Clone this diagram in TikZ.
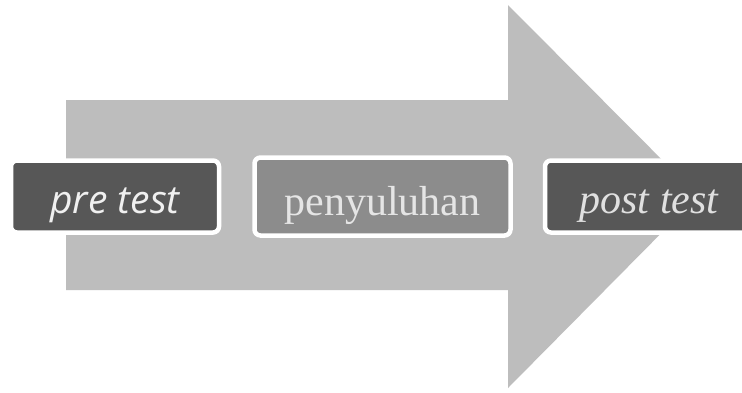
\documentclass[tikz,border=0pt]{standalone}
\usepackage{fontspec}
\setmainfont{Liberation Serif}
\newfontfamily\boxsans{Open Sans}
\begin{document}
\begin{tikzpicture}[x=1pt,y=-1pt,
  stagebox/.style={draw=white, line width=4.5pt, rounded corners=6pt, inner sep=0pt, minimum height=72pt, text depth=0pt},
  darkbox/.style={stagebox, fill=black!66},
  midbox/.style={stagebox, fill=black!45},
]
\useasboundingbox (0,0) rectangle (742,392);
\fill[white] (0,0) rectangle (742,392);
% big arrow
\fill[black!26] (66,100) -- (508,100) -- (508,5) -- (698,196) -- (508,388) -- (508,290) -- (66,290) -- cycle;
\node[darkbox, minimum width=208pt, text height=33pt, text=black!6] (pre) at (115,196.5) {\boxsans\itshape\fontsize{39}{44}\selectfont pre test};
\node[midbox, minimum width=256pt, minimum height=78pt, text height=37pt, text=black!10] (peny) at (382.5,196.5) {\fontsize{42}{48}\selectfont penyuluhan};
\node[darkbox, minimum width=208pt, text height=33pt, text=black!12] (post) at (649,196.5) {\itshape\fontsize{42}{48}\selectfont post test};
\end{tikzpicture}
\end{document}
